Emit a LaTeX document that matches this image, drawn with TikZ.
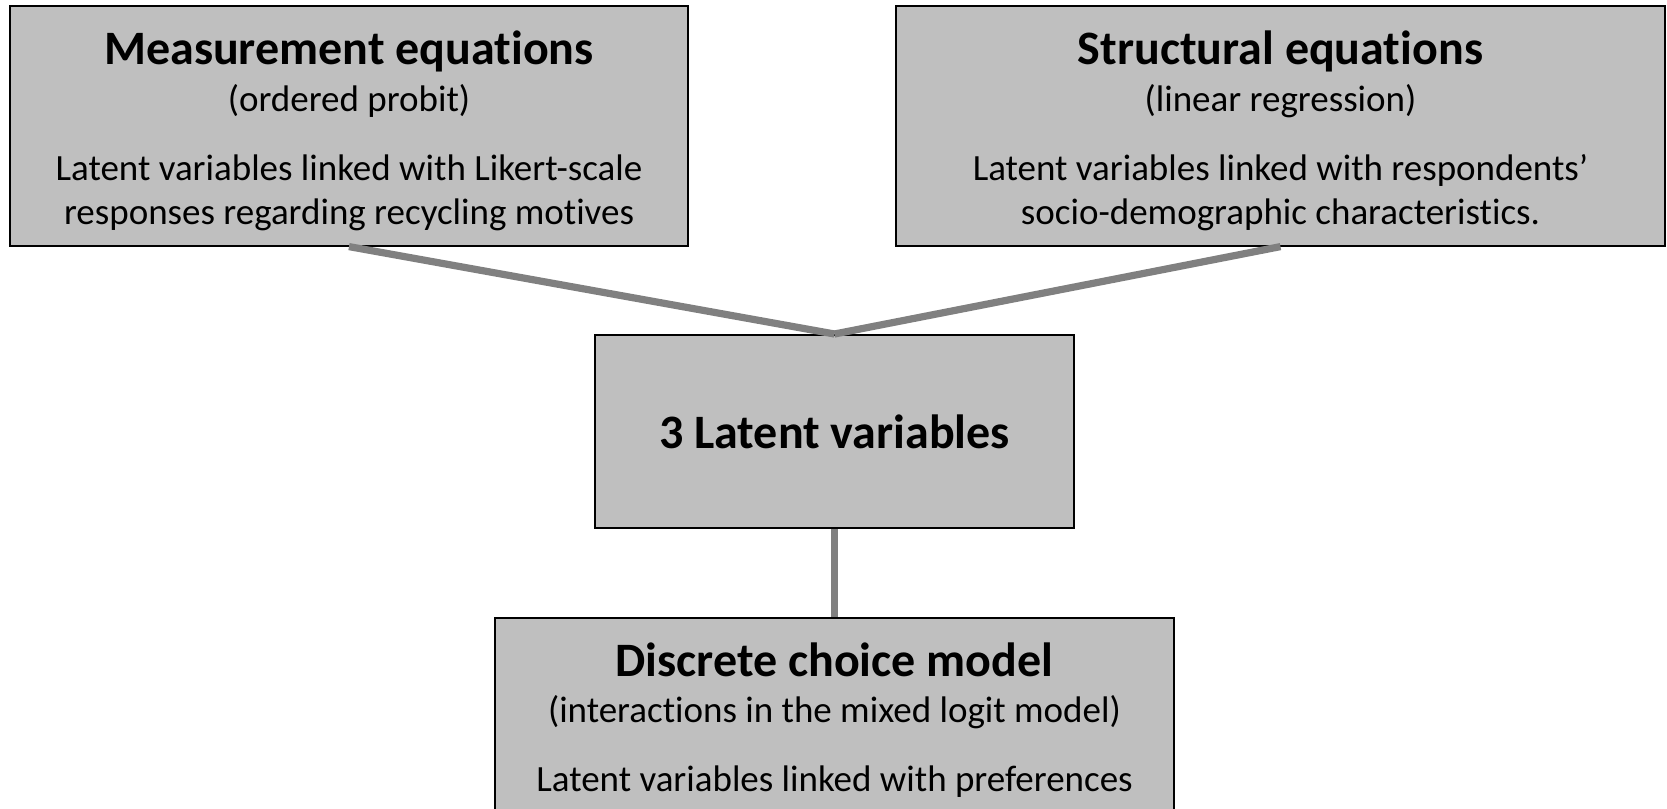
\documentclass[tikz,border=0pt]{standalone}
\usepackage{fontspec}
\setmainfont{Carlito}[Ligatures={NoCommon,NoContextual}]
\usetikzlibrary{positioning}

\definecolor{boxgray}{RGB}{191,191,191}
\definecolor{linkgray}{RGB}{128,128,128}

\tikzset{
    box/.style={draw=black, line width=1pt, fill=boxgray, align=center,
        inner xsep=0pt, inner ysep=4pt,
        font=\fontsize{18.5}{21.8}\selectfont},
    link/.style={draw=linkgray, line width=3.6pt},
}
% bold heading; #1 = height of the first line (pushes the text down)
\newcommand{\boxhead}[2][0pt]{\rule{0pt}{#1}{\fontsize{24}{25}\selectfont\bfseries #2}}

\begin{document}
\begin{tikzpicture}[x=0.5pt, y=-0.5pt]

%=================================== Frame ===================================
\clip (0,0) rectangle (1667,809);

% top row: the two sets of equations
\node[box, minimum width=339pt, minimum height=119.6pt] (meas) at (349,126)
    {\boxhead[21.6pt]{Measurement equations}\\[1.6pt]
     (ordered probit)\\[12.7pt]
     Latent variables linked with Likert-scale\\
     responses regarding recycling motives};
\node[box, minimum width=384.5pt, minimum height=119.6pt] (struct) at (1280.5,126)
    {\boxhead[21.6pt]{Structural equations}\\[1.6pt]
     (linear regression)\\[12.7pt]
     Latent variables linked with respondents'\\
     socio-demographic characteristics.};

% middle: the latent variables
\node[box, minimum width=239.5pt, minimum height=96.5pt] (latent) at (834.5,431.5)
    {\boxhead{3 Latent variables}};

% bottom: the choice model (runs off the page)
\node[box, anchor=north, minimum width=339.5pt, text depth=40pt] (choice) at (834.5,617)
    {\boxhead[25pt]{Discrete choice model}\\[1.6pt]
     (interactions in the mixed logit model)\\[12.7pt]
     Latent variables linked with preferences};

% connectors
\draw[link] (meas.south) -- (latent.north);
\draw[link] (struct.south) -- (latent.north);
\draw[link] (latent.south) -- (choice.north);
%==================================== END ====================================

\end{tikzpicture}
\end{document}
